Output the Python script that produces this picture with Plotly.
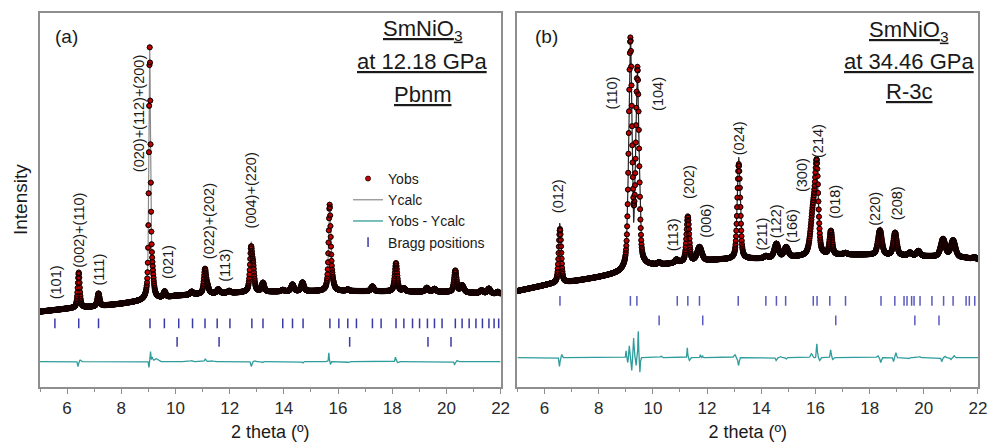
import numpy as np
import plotly.graph_objects as go

# ---------------------------------------------------------------
# Scan grid (2 theta, degrees)
# ---------------------------------------------------------------
TT_START, TT_END, TT_STEP = 5.0, 22.0, 0.01

# ---------------------------------------------------------------
# (a) SmNiO3 at 12.18 GPa, Pbnm
# ---------------------------------------------------------------
bg_a_pos = [5.0, 6.0, 7.0, 8.0, 8.8, 9.6, 10.0, 11.0, 12.0, 13.0, 14.0, 16.0, 18.0, 20.0, 22.0]
bg_a_val = [77, 80, 82, 85, 88, 91, 93, 95, 96, 97, 97.5, 98, 97.5, 97, 95]

peak_a_pos = [6.43, 7.16, 9.05, 9.14, 9.60, 10.60, 11.09, 11.18, 11.58, 11.98, 12.79, 12.87,
              13.23, 13.96, 14.32, 14.69, 15.69, 15.77, 16.36, 17.27, 18.14, 18.43, 19.28,
              19.56, 20.33, 20.58, 21.30, 21.57, 21.90]
peak_a_height = [36, 13, 252, 22, 6, 3, 24, 6, 4, 2, 42, 20,
                 9, 1.5, 7, 9, 84, 10, 1.5, 5, 29, 3, 4,
                 3, 22, 7, 3, 5, 2]
peak_a_fwhm = [0.09, 0.10, 0.07, 0.12, 0.10, 0.12, 0.10, 0.12, 0.12, 0.12, 0.10, 0.10,
               0.11, 0.12, 0.12, 0.12, 0.09, 0.14, 0.12, 0.12, 0.11, 0.12, 0.13,
               0.13, 0.11, 0.15, 0.13, 0.13, 0.12]
eta_a = 0.6

# residual (Yobs - Ycalc) features
res_a_pos = [6.40, 6.48, 9.02, 9.08, 9.14, 9.28, 10.60, 11.10, 11.30, 12.80, 12.92, 13.22,
             14.70, 15.66, 15.72, 16.40, 18.12, 18.20, 20.30, 20.40]
res_a_amp = [-5, 1.5, -6, 10, 4, 3, 1, 2.5, 1, -5, 1, -1,
             -1.5, 9, -3, -1, 4.5, -1, -3, 1]
res_a_width = [0.04, 0.04, 0.03, 0.03, 0.05, 0.15, 0.08, 0.06, 0.15, 0.05, 0.05, 0.05,
               0.05, 0.03, 0.03, 0.06, 0.04, 0.04, 0.05, 0.05]
res_a_offset = 26

bragg_a_phase1 = [5.55, 6.43, 7.16, 9.06, 9.59, 10.12, 10.63, 11.09, 11.54, 12.01, 12.82, 13.23,
                  13.96, 14.32, 14.71, 15.70, 16.03, 16.36, 16.68, 17.27, 17.59, 18.14, 18.43,
                  18.75, 19.01, 19.30, 19.56, 19.84, 20.33, 20.58, 20.84, 21.09, 21.33, 21.57,
                  21.76, 21.93]
bragg_a_phase2 = [10.06, 11.61, 16.43, 19.32, 20.17]
bragg_a_rows = [65, 46]

labels_a = ['(101)', '(002)+(110)', '(111)', '(020)+(112)+(200)', '(021)',
            '(022)+(202)', '(113)', '(004)+(220)']
labels_a_x = [5.57, 6.43, 7.19, 8.66, 9.75, 11.22, 11.83, 12.79]
labels_a_y = [88, 120, 102, 217, 108, 128, 105, 160]

# ---------------------------------------------------------------
# (b) SmNiO3 at 34.46 GPa, R-3c
# ---------------------------------------------------------------
bg_b_pos = [5.0, 6.2, 7.1, 8.0, 8.8, 9.7, 10.5, 11.0, 12.5, 14.0, 15.5, 17.0, 18.0, 19.5, 21.5, 22.0]
bg_b_val = [98, 105, 108, 112, 116, 123, 125, 127, 130, 131, 133, 135, 135, 134, 132, 130]

peak_b_pos = [6.57, 9.17, 9.43, 10.23, 10.87, 11.29, 11.72, 13.17, 14.17, 14.56, 14.92, 15.92,
              16.05, 16.57, 17.11, 18.38, 18.94, 19.49, 19.80, 20.71, 21.08, 21.87]
peak_b_height = [55, 232, 199, 2, 3, 46, 14, 97, 2, 14, 10, 45,
                 80, 24, 1.5, 25, 23, 3, 5, 18, 17, 2]
peak_b_fwhm = [0.11, 0.14, 0.14, 0.12, 0.12, 0.12, 0.20, 0.13, 0.15, 0.18, 0.18, 0.22,
               0.14, 0.12, 0.15, 0.17, 0.15, 0.15, 0.15, 0.20, 0.20, 0.15]
eta_b = 0.45

res_b_pos = [6.55, 6.64, 9.01, 9.07, 9.13, 9.22, 9.29, 9.38, 9.46, 9.52, 10.30, 11.27, 11.35,
             11.75, 11.83, 13.02, 13.16, 14.55, 14.72, 14.92, 15.85, 16.05, 16.16, 16.56,
             16.64, 18.30, 18.41, 18.88, 18.97, 19.45, 19.85, 20.66, 20.78, 21.00, 21.12]
res_b_amp = [-9, 3, 7, -5, 12, -13, 20, -8, 27, -15, 1.5, 10, -3,
             3, 2, 3, -8, -3, 1, -1.5, 4, 14, -3, 8,
             -2, 2, -5, -4, 5, -1, 1, -4, 1.5, -2, 2]
res_b_width = [0.04, 0.04, 0.03, 0.03, 0.03, 0.03, 0.03, 0.03, 0.03, 0.03, 0.06, 0.03, 0.04,
               0.03, 0.03, 0.08, 0.05, 0.05, 0.05, 0.05, 0.08, 0.04, 0.05, 0.04,
               0.04, 0.06, 0.05, 0.04, 0.04, 0.06, 0.06, 0.05, 0.05, 0.05, 0.05]
res_b_offset = 30

bragg_b_phase1 = [6.57, 9.17, 9.41, 10.90, 11.29, 11.72, 13.15, 14.17, 14.56, 14.90, 15.92,
                  16.06, 16.53, 17.11, 18.42, 18.93, 19.27, 19.38, 19.55, 19.64, 19.86, 20.30,
                  20.73, 21.08, 21.56, 21.68, 21.88]
bragg_b_phase2 = [10.23, 11.84, 16.75, 19.67, 20.56]
bragg_b_rows = [88, 68]

labels_b = ['(012)', '(110)', '(104)', '(113)', '(202)', '(006)', '(024)', '(211)',
            '(122)', '(166)', '(300)', '(214)', '(018)', '(220)', '(208)']
labels_b_x = [6.48, 8.49, 10.19, 10.74, 11.33, 11.98, 13.19, 14.03,
              14.55, 15.13, 15.50, 16.10, 16.69, 18.21, 19.00]
labels_b_y = [175, 282, 280, 137, 190, 150, 235, 137,
              150, 145, 197, 232, 170, 163, 168]

# ---------------------------------------------------------------
# Profile construction
# ---------------------------------------------------------------
two_theta = np.round(np.arange(TT_START, TT_END + TT_STEP / 2, TT_STEP), 4)


def pseudo_voigt(x, center, height, fwhm, eta):
    hw = fwhm / 2.0
    lor = 1.0 / (1.0 + ((x - center) / hw) ** 2)
    gau = np.exp(-4.0 * np.log(2.0) * ((x - center) / fwhm) ** 2)
    return height * (eta * lor + (1.0 - eta) * gau)


def pattern(bg_pos, bg_val, pos, height, fwhm, eta):
    y = np.interp(two_theta, bg_pos, bg_val).astype(float)
    for c, h, w in zip(pos, height, fwhm):
        y += pseudo_voigt(two_theta, c, h, w, eta)
    return y


def residual(pos, amp, width):
    r = np.zeros_like(two_theta, dtype=float)
    for c, a, w in zip(pos, amp, width):
        r += a * np.exp(-4.0 * np.log(2.0) * ((two_theta - c) / w) ** 2)
    return r


y_obs_a = pattern(bg_a_pos, bg_a_val, peak_a_pos, peak_a_height, peak_a_fwhm, eta_a)
res_a = residual(res_a_pos, res_a_amp, res_a_width)
y_calc_a = y_obs_a - res_a

y_obs_b = pattern(bg_b_pos, bg_b_val, peak_b_pos, peak_b_height, peak_b_fwhm, eta_b)
res_b = residual(res_b_pos, res_b_amp, res_b_width)
y_calc_b = y_obs_b - res_b

# ---------------------------------------------------------------
# Styling
# ---------------------------------------------------------------
FONT = 'Arial, "Liberation Sans", sans-serif'
FRAME = '#8e8e8e'
OBS_FILL = '#c40000'
OBS_EDGE = '#140000'
CALC_A = '#8a8a8a'
CALC_B = '#262626'
RES_COLOR = '#2f9c9c'
BRAGG_A = '#3a3aa6'
BRAGG_B = '#5a5ac0'
TEXT = '#1a1a1a'

fig = go.Figure()


def add_panel(xa, ya, y_obs, y_calc, res, res_offset, bragg1, bragg2, rows,
              calc_color, bragg_color, legend):
    fig.add_trace(go.Scatter(
        x=two_theta, y=y_calc, mode='lines', name='Ycalc',
        line=dict(color=calc_color, width=1.2), xaxis=xa, yaxis=ya,
        showlegend=legend, legendrank=2))
    fig.add_trace(go.Scatter(
        x=two_theta, y=y_obs, mode='markers', name='Yobs',
        marker=dict(size=5, color=OBS_FILL, line=dict(color=OBS_EDGE, width=0.8)),
        xaxis=xa, yaxis=ya, showlegend=legend, legendrank=1))
    # outline pass: where points crowd together their rims merge into a dark band
    fig.add_trace(go.Scatter(
        x=two_theta, y=y_obs, mode='markers', name='Yobs',
        marker=dict(size=5, symbol='circle-open', color=OBS_EDGE, line=dict(width=0.8)),
        xaxis=xa, yaxis=ya, showlegend=False, hoverinfo='skip'))
    fig.add_trace(go.Scatter(
        x=two_theta, y=res + res_offset, mode='lines', name='Yobs - Ycalc',
        line=dict(color=RES_COLOR, width=1.3), xaxis=xa, yaxis=ya,
        showlegend=legend, legendrank=3))
    fig.add_trace(go.Scatter(
        x=bragg1, y=[rows[0]] * len(bragg1), mode='markers', name='Bragg positions',
        marker=dict(symbol='line-ns', size=7, line=dict(color=bragg_color, width=1.5)),
        xaxis=xa, yaxis=ya, showlegend=legend, legendrank=4))
    fig.add_trace(go.Scatter(
        x=bragg2, y=[rows[1]] * len(bragg2), mode='markers', name='Bragg positions',
        marker=dict(symbol='line-ns', size=7, line=dict(color=bragg_color, width=1.5)),
        xaxis=xa, yaxis=ya, showlegend=False))


add_panel('x', 'y', y_obs_a, y_calc_a, res_a, res_a_offset,
          bragg_a_phase1, bragg_a_phase2, bragg_a_rows, CALC_A, BRAGG_A, True)
add_panel('x2', 'y2', y_obs_b, y_calc_b, res_b, res_b_offset,
          bragg_b_phase1, bragg_b_phase2, bragg_b_rows, CALC_B, BRAGG_B, False)

annotations = []
for txt, x, y in zip(labels_a, labels_a_x, labels_a_y):
    annotations.append(dict(text=txt, x=x, y=y, xref='x', yref='y', textangle=-90,
                            xanchor='center', yanchor='bottom', showarrow=False,
                            font=dict(size=14.5, color=TEXT)))
for txt, x, y in zip(labels_b, labels_b_x, labels_b_y):
    annotations.append(dict(text=txt, x=x, y=y, xref='x2', yref='y2', textangle=-90,
                            xanchor='center', yanchor='bottom', showarrow=False,
                            font=dict(size=14.5, color=TEXT)))

titles_a = ['SmNiO<sub>3</sub>', 'at 12.18 GPa', 'Pbnm']
titles_b = ['SmNiO<sub>3</sub>', 'at 34.46 GPa', 'R-3c']
title_a_y = [365, 332.5, 299]
title_b_y = [363.5, 332, 301.5]
for txt, y in zip(titles_a, title_a_y):
    annotations.append(dict(text=txt, x=19.11, y=y, xref='x', yref='y', showarrow=False,
                            xanchor='center', yanchor='middle',
                            font=dict(size=22, color=TEXT, lineposition='under')))
for txt, y in zip(titles_b, title_b_y):
    annotations.append(dict(text=txt, x=19.44, y=y, xref='x2', yref='y2', showarrow=False,
                            xanchor='center', yanchor='middle',
                            font=dict(size=22, color=TEXT, lineposition='under')))

annotations.append(dict(text='(a)', x=5.97, y=358, xref='x', yref='y', showarrow=False,
                        font=dict(size=19, color=TEXT)))
annotations.append(dict(text='(b)', x=6.08, y=358, xref='x2', yref='y2', showarrow=False,
                        font=dict(size=19, color=TEXT)))
annotations.append(dict(text='Intensity', x=0, y=0.5, xref='paper', yref='paper',
                        xshift=-20, xanchor='center', yanchor='middle', textangle=-90,
                        showarrow=False, font=dict(size=19, color=TEXT)))

x_common = dict(range=[5, 22], tick0=0, dtick=2, ticks='outside', ticklen=5, tickwidth=1.2,
                tickcolor=FRAME, showline=True, linecolor=FRAME, linewidth=1.5, mirror=True,
                showgrid=False, zeroline=False, tickfont=dict(size=17, color='#2a2a2a'),
                minor=dict(dtick=1, tick0=0, ticks='outside', ticklen=3, tickcolor=FRAME,
                           showgrid=False),
                title=dict(text='2 theta (º)', font=dict(size=18, color=TEXT), standoff=8))
y_common = dict(range=[0, 382], showticklabels=False, ticks='', showline=True,
                linecolor=FRAME, linewidth=1.5, mirror=True, showgrid=False, zeroline=False)

fig.update_layout(
    width=996, height=448,
    margin=dict(l=40, r=9, t=13, b=53),
    paper_bgcolor='white', plot_bgcolor='white',
    font=dict(family=FONT, color=TEXT),
    xaxis=dict(domain=[0, 465 / 947], anchor='y', **x_common),
    xaxis2=dict(domain=[482 / 947, 1.0], anchor='y2', **x_common),
    yaxis=dict(domain=[0, 1], anchor='x', **y_common),
    yaxis2=dict(domain=[0, 1], anchor='x2', **y_common),
    legend=dict(x=311 / 947, y=0.599, xanchor='left', yanchor='top',
                font=dict(size=14, color=TEXT), bgcolor='rgba(0,0,0,0)',
                tracegroupgap=0, itemwidth=30),
    annotations=annotations,
)

fig.write_html('out.html')
